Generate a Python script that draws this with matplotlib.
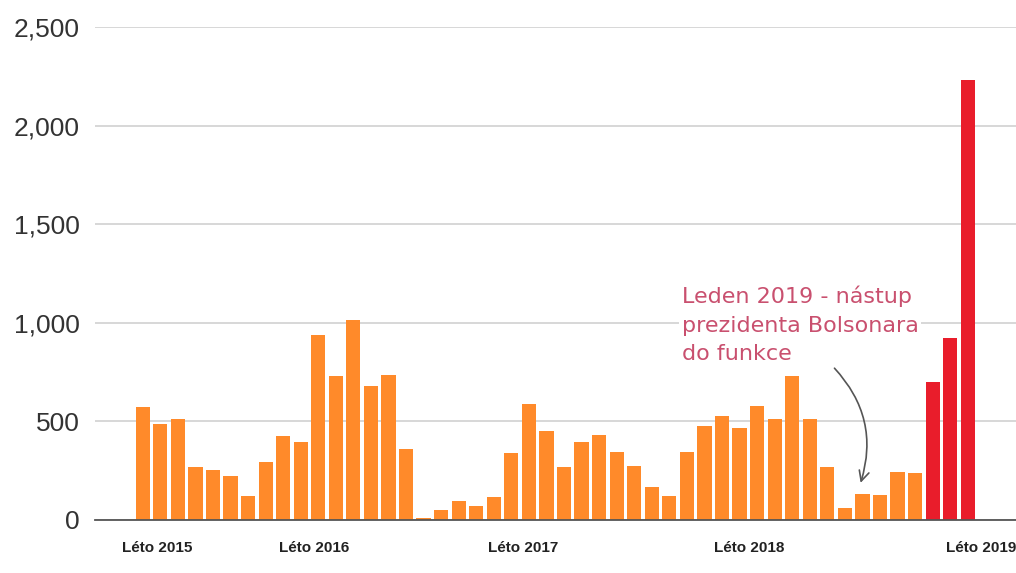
import matplotlib.pyplot as plt
import numpy as np

# monthly counts
values = [571, 488, 514, 270, 255, 221, 123, 292, 427, 397, 938, 728,
          1015, 682, 735, 358, 10, 49, 96, 69, 118, 341, 586, 449,
          269, 395, 429, 345, 274, 169, 123, 345, 475, 525, 464, 578,
          512, 728, 512, 270, 61, 132, 125, 245, 238, 698, 924, 2231]
n_red = 3  # last months highlighted

tick_pos = [0.83, 9.76, 21.66, 34.57, 47.76]
tick_labels = ['Léto 2015', 'Léto 2016', 'Léto 2017', 'Léto 2018', 'Léto 2019']
y_ticks = [0, 500, 1000, 1500, 2000, 2500]

orange = '#FF8A2A'
red = '#E91D2B'

fig = plt.figure(figsize=(10.16, 5.73), dpi=100)
ax = fig.add_axes([0.0935, 0.0925, 0.9065, 0.8604])

x = np.arange(len(values))
colors = [orange] * (len(values) - n_red) + [red] * n_red
ax.bar(x, values, width=0.81, color=colors, zorder=2)

ax.set_xlim(-2.72, 49.75)
ax.set_ylim(0, 2500)

ax.set_yticks(y_ticks)
ax.set_yticklabels([f'{v:,}' for v in y_ticks], fontsize=19,
                   color='#333333', family='Liberation Sans')
ax.set_xticks(tick_pos)
ax.set_xticklabels(tick_labels, fontsize=11, fontweight='bold',
                   color='#222222', family='Liberation Sans')
ax.tick_params(axis='both', length=0)
ax.tick_params(axis='y', pad=11)
ax.tick_params(axis='x', pad=15)

ax.grid(axis='y', color='#d4d4d4', linewidth=1.3, zorder=0)
for s in ['top', 'right', 'left']:
    ax.spines[s].set_visible(False)
ax.spines['bottom'].set_color('#555555')
ax.spines['bottom'].set_linewidth(1.3)
ax.spines['bottom'].set_zorder(3)

ax.text(30.7, 1190, 'Leden 2019 - nástup\nprezidenta Bolsonara\ndo funkce',
        fontsize=16, color='#C9506F', va='top', ha='left',
        linespacing=1.55, zorder=4,
        bbox=dict(facecolor='white', edgecolor='none', pad=2))

ax.annotate('', xy=(40.85, 175), xytext=(39.3, 780),
            arrowprops=dict(arrowstyle='->', color='#555555', lw=1.2,
                            connectionstyle='arc3,rad=-0.3',
                            mutation_scale=18),
            zorder=4)

fig.savefig('out.png', dpi=100)
